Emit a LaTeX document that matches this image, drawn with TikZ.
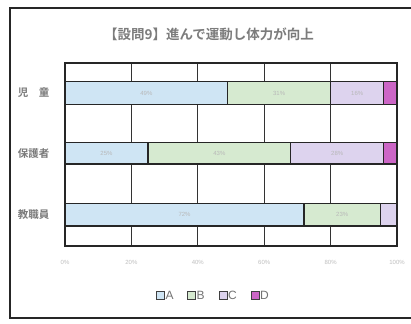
\documentclass[tikz,border=0pt]{standalone}
\usepackage{fontspec}
\setmainfont{Liberation Sans}
\newfontfamily\cjk{Noto Sans CJK JP Bold}
\definecolor{cA}{HTML}{CFE5F4}
\definecolor{cB}{HTML}{D6EAD0}
\definecolor{cC}{HTML}{DDD3EE}
\definecolor{cD}{HTML}{CC66C6}
\definecolor{txt}{HTML}{7C7C7C}
\begin{document}
\begin{tikzpicture}[x=1pt,y=-1pt,
  framelines/.style={draw=black!85,line width=1.2pt},
  gridline/.style={draw=black!80,line width=1pt},
  segA/.style={fill=cA,draw=black!85,line width=1.3pt},
  segB/.style={fill=cB,draw=black!85,line width=1.3pt},
  segC/.style={fill=cC,draw=black!85,line width=1.3pt},
  segD/.style={fill=cD,draw=black!85,line width=1.3pt},
  pct/.style={font=\fontsize{6}{7}\selectfont,text=black!28},
  cat/.style={font=\cjk\fontsize{10.5}{12}\selectfont,text=black!52,anchor=east},
  axlab/.style={font=\fontsize{6}{7}\selectfont,text=black!25},
  legbox/.style={draw=black!75,line width=0.9pt,minimum size=8pt,inner sep=0pt},
  legtxt/.style={font=\fontsize{12}{13}\selectfont,text=black!55,anchor=west,inner sep=1pt}]
\useasboundingbox (0,0) rectangle (411,323);
\fill[white] (0,0) rectangle (411,323);
% outer frame (right side runs off the picture)
\draw[framelines] (411,8) -- (10,8) -- (10,318) -- (411,318);
% title
\node[font=\cjk\fontsize{13.5}{15}\selectfont,text=txt] (title) at (209,34) {【設問9】進んで運動し体力が向上};
% plot area
\begin{scope}[xshift=65pt,x=3.32pt]
  \foreach \g in {20,40,60,80}{\draw[gridline] (\g,63) -- (\g,246);}
  % bar 1
  \draw[segA] (0,81.5) rectangle (49,104.5);
  \draw[segB] (49,81.5) rectangle (80,104.5);
  \draw[segC] (80,81.5) rectangle (96,104.5);
  \draw[segD] (96,81.5) rectangle (100,104.5);
  \node[pct] (p1a) at (24.5,93) {49\%};
  \node[pct] (p1b) at (64.5,93) {31\%};
  \node[pct] (p1c) at (88,93) {16\%};
  % bar 2
  \draw[segA] (0,142.5) rectangle (25,164);
  \draw[segB] (25,142.5) rectangle (68,164);
  \draw[segC] (68,142.5) rectangle (96,164);
  \draw[segD] (96,142.5) rectangle (100,164);
  \node[pct] (p2a) at (12.5,153.3) {25\%};
  \node[pct] (p2b) at (46.5,153.3) {43\%};
  \node[pct] (p2c) at (82,153.3) {28\%};
  % bar 3
  \draw[segA] (0,203.5) rectangle (72,226);
  \draw[segB] (72,203.5) rectangle (95,226);
  \draw[segC] (95,203.5) rectangle (100,226);
  \node[pct] (p3a) at (36,214.8) {72\%};
  \node[pct] (p3b) at (83.5,214.8) {23\%};
  % border
  \draw[black!85,line width=1.4pt] (0,63) rectangle (100,246);
  % axis labels
  \foreach \g/\n in {0/a0,20/a20,40/a40,60/a60,80/a80,100/a100}{\node[axlab] (\n) at (\g,262) {\g\%};}
\end{scope}
% category labels
\node[cat] (c1) at (53,93) {児　童};
\node[cat] (c2) at (53,153.3) {保護者};
\node[cat] (c3) at (53,214.8) {教職員};
% legend
\node[legbox,fill=cA] (lA) at (160.5,295) {};
\node[legtxt] (tA) at (164.5,295) {A};
\node[legbox,fill=cB] (lB) at (191.5,295) {};
\node[legtxt] (tB) at (195.5,295) {B};
\node[legbox,fill=cC] (lC) at (223,295) {};
\node[legtxt] (tC) at (227,295) {C};
\node[legbox,fill=cD] (lD) at (255,295) {};
\node[legtxt] (tD) at (259,295) {D};
\end{tikzpicture}
\end{document}
